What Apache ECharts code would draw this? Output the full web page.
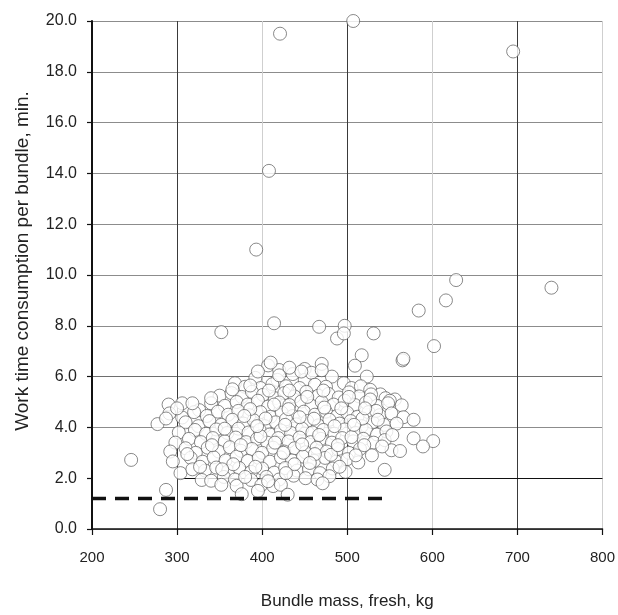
<!DOCTYPE html>
<html>
<head>
<meta charset="utf-8">
<script src="https://cdn.jsdelivr.net/npm/echarts@6/dist/echarts.min.js"></script>
<style>
  html, body { margin: 0; padding: 0; background: #fff; }
  #main { width: 618px; height: 615px; }
</style>
</head>
<body>
<div id="main"></div>
<script>
// bundle mass (kg), work time (min)
var outliers = [
  [393, 11.0], [408, 14.1], [421, 19.5], [507, 20.0], [695, 18.8], [740, 9.5],
  [628, 9.8], [616, 9.0], [584, 8.6], [602, 7.2], [565, 6.64], [414, 8.1],
  [467, 7.96], [497, 8.0], [488, 7.5], [496, 7.7], [531, 7.7], [352, 7.75],
  [517, 6.84], [509, 6.43], [470, 6.5], [450, 6.3], [407, 6.44], [420, 6.26],
  [410, 6.55], [566, 6.7]
];
var upperBand = [
  [392, 5.95], [418, 5.87], [450, 5.87], [436, 6.1], [482, 6.0], [523, 6.0], [458, 6.15],
  [368, 5.74], [380, 5.6], [398, 5.55], [412, 5.7], [428, 5.62], [444, 5.55], [462, 5.68],
  [475, 5.6], [496, 5.74], [505, 5.55], [516, 5.62], [527, 5.48], [539, 5.3],
  [350, 5.25], [364, 5.35], [376, 5.2], [388, 5.4], [401, 5.28], [415, 5.15], [426, 5.35],
  [438, 5.22], [452, 5.4], [466, 5.25], [478, 5.32], [490, 5.18], [502, 5.38], [514, 5.22],
  [528, 5.3], [545, 5.15], [556, 5.1], [564, 4.87], [550, 5.05]
];
var middleBand = [
  [290, 4.9], [306, 4.95], [326, 4.68], [340, 4.95], [356, 4.85], [370, 5.0], [383, 4.9],
  [395, 5.05], [407, 4.82], [420, 4.98], [432, 4.88], [446, 5.02], [458, 4.85], [470, 5.0],
  [484, 4.9], [497, 5.05], [509, 4.88], [522, 4.98], [535, 4.85], [548, 4.95], [527, 5.1],
  [291, 4.55], [306, 4.39], [320, 4.6], [335, 4.45], [348, 4.62], [360, 4.5], [372, 4.65],
  [385, 4.48], [398, 4.6], [410, 4.42], [423, 4.58], [436, 4.45], [449, 4.62], [462, 4.5],
  [475, 4.62], [488, 4.45], [500, 4.58], [512, 4.42], [525, 4.6], [538, 4.48], [552, 4.55],
  [566, 4.4],
  [277, 4.13], [310, 4.2], [325, 4.05], [338, 4.25], [352, 4.1], [365, 4.3], [378, 4.15],
  [390, 4.28], [403, 4.05], [416, 4.2], [428, 4.32], [440, 4.12], [453, 4.25], [466, 4.08],
  [479, 4.3], [491, 4.15], [504, 4.25], [517, 4.05], [530, 4.2], [543, 4.1], [558, 4.15],
  [578, 4.3],
  [302, 3.8], [321, 3.9], [334, 3.75], [346, 3.92], [359, 3.78], [372, 3.95], [384, 3.8],
  [397, 3.9], [409, 3.72], [422, 3.88], [434, 3.78], [447, 3.95], [459, 3.8], [472, 3.9],
  [485, 3.75], [497, 3.92], [510, 3.78], [522, 3.9], [535, 3.72], [546, 3.84]
];
var lowerBand = [
  [298, 3.4], [314, 3.55], [328, 3.42], [342, 3.58], [356, 3.45], [369, 3.6], [381, 3.42],
  [394, 3.55], [406, 3.4], [419, 3.58], [431, 3.45], [444, 3.6], [457, 3.42], [469, 3.55],
  [482, 3.4], [494, 3.58], [507, 3.45], [519, 3.55], [531, 3.4], [544, 3.5], [578, 3.57],
  [601, 3.46], [589, 3.25],
  [292, 3.05], [310, 3.18], [322, 3.0], [336, 3.2], [349, 3.05], [362, 3.22], [375, 3.08],
  [388, 3.15], [400, 3.0], [413, 3.2], [426, 3.05], [438, 3.18], [451, 3.02], [464, 3.2],
  [476, 3.05], [489, 3.15], [502, 3.0], [515, 3.15], [529, 2.9], [552, 3.1], [562, 3.07],
  [246, 2.72], [295, 2.66], [316, 2.8], [330, 2.65], [343, 2.82], [357, 2.7], [370, 2.85],
  [383, 2.68], [396, 2.8], [409, 2.65], [422, 2.82], [435, 2.7], [448, 2.85], [461, 2.68],
  [474, 2.8], [487, 2.65], [500, 2.75], [513, 2.62],
  [304, 2.2], [318, 2.35], [333, 2.3], [346, 2.42], [360, 2.28], [373, 2.4], [387, 2.25],
  [400, 2.38], [414, 2.22], [427, 2.4], [441, 2.3], [455, 2.35], [468, 2.2], [483, 2.38],
  [498, 2.25], [544, 2.33],
  [329, 1.93], [340, 1.9], [355, 2.05], [368, 1.95], [387, 1.93], [405, 2.05], [420, 1.95],
  [437, 2.1], [451, 2.0], [465, 1.95], [479, 2.08], [471, 1.8],
  [287, 1.54], [280, 0.78], [352, 1.74], [370, 1.7], [376, 1.37], [399, 1.73], [413, 1.69],
  [422, 1.74], [430, 1.35], [395, 1.5]
];
// extra points filling the dense core between the bands
var corePoints = [
  [386, 4.72], [431, 4.72], [461, 4.34], [398, 3.65], [447, 3.33], [473, 4.78], [414, 4.9],
  [375, 3.3], [425, 3.0], [462, 2.95], [505, 3.62], [518, 4.35], [392, 2.45], [438, 2.55],
  [481, 2.92], [356, 3.95], [404, 4.35], [444, 4.4], [493, 4.75], [534, 4.65], [520, 3.3],
  [366, 2.55], [341, 3.3], [453, 5.2], [472, 5.45], [432, 5.45], [408, 5.45], [386, 5.65],
  [420, 6.05], [446, 6.2], [470, 6.25], [432, 6.35], [395, 6.2], [365, 5.5], [340, 5.15],
  [318, 4.95], [300, 4.75], [287, 4.35], [312, 2.95], [327, 2.45], [353, 2.35], [380, 2.05],
  [407, 1.88], [428, 2.2], [456, 2.6], [491, 2.45], [510, 2.9], [541, 3.25], [553, 3.7],
  [536, 4.3], [489, 3.3], [467, 3.7], [415, 3.4], [394, 4.05], [379, 4.45], [427, 4.1],
  [485, 4.05], [508, 4.1], [521, 4.75], [502, 5.2]
];
var dashX = [200, 550];
var dashY = [1.2, 1.2];
var xMin = 200, xMax = 800, xStep = 100;
var yMin = 0, yMax = 20, yStep = 2;

var points = outliers.concat(upperBand, middleBand, lowerBand, corePoints);

var font = 'Liberation Sans, Arial, sans-serif';

// split line colours cycle per tick (200,300,...)
var xSplitColors = ['#cfcfcf', '#3a3a3a'];
var ySplitColors = ['#8c8c8c', 'rgba(0,0,0,0)', '#8c8c8c', '#6e6e6e', '#8c8c8c', '#8c8c8c',
  '#8c8c8c', '#8c8c8c', '#8c8c8c', '#8c8c8c', '#8c8c8c'];

var myChart = echarts.init(document.getElementById('main'));
var option = {
  animation: false,
  backgroundColor: '#fff',
  grid: { left: 92, right: 8, top: 21, bottom: 84 },
  xAxis: {
    type: 'value',
    min: xMin, max: xMax, interval: xStep,
    name: 'Bundle mass, fresh, kg',
    nameLocation: 'middle',
    nameGap: 64,
    nameTextStyle: { fontFamily: font, fontSize: 17, color: '#222' },
    axisLine: { show: true, onZero: false, lineStyle: { color: '#111', width: 1.5 } },
    axisTick: { show: true, length: 6, lineStyle: { color: '#111', width: 1.2 } },
    axisLabel: { margin: 21, fontFamily: font, fontSize: 15, color: '#222' },
    splitLine: { show: true, lineStyle: { color: xSplitColors, width: 1 } }
  },
  yAxis: {
    type: 'value',
    min: yMin, max: yMax, interval: yStep,
    name: 'Work time consumption per bundle, min.',
    nameLocation: 'middle',
    nameGap: 60,
    nameTextStyle: { fontFamily: font, fontSize: 19, color: '#222', padding: [0, 0, 0, 28] },
    axisLine: { show: true, lineStyle: { color: '#111', width: 2 } },
    axisTick: { show: true, length: 5, lineStyle: { color: '#111', width: 1.2 } },
    axisLabel: {
      margin: 15, fontFamily: font, fontSize: 16, color: '#222',
      formatter: function (v) { return v.toFixed(1); }
    },
    splitLine: { show: true, lineStyle: { color: ySplitColors, width: 1 } }
  },
  series: [
    {
      type: 'scatter',
      data: points,
      symbol: 'circle',
      symbolSize: 13,
      itemStyle: { color: '#fff', borderColor: '#5a5a5a', borderWidth: 0.9 },
      z: 3,
      markLine: {
        silent: true,
        symbol: 'none',
        label: { show: false },
        lineStyle: { color: '#111', width: 1.2, type: 'solid' },
        data: [[{ coord: [300, 2] }, { coord: [800, 2] }]],
        z: 1
      }
    },
    {
      type: 'line',
      data: [[dashX[0], dashY[0]], [dashX[1], dashY[1]]],
      symbol: 'none',
      silent: true,
      lineStyle: { color: '#111', width: 3.5, type: [14, 9] },
      z: 5
    }
  ]
};
myChart.setOption(option);
</script>
</body>
</html>
